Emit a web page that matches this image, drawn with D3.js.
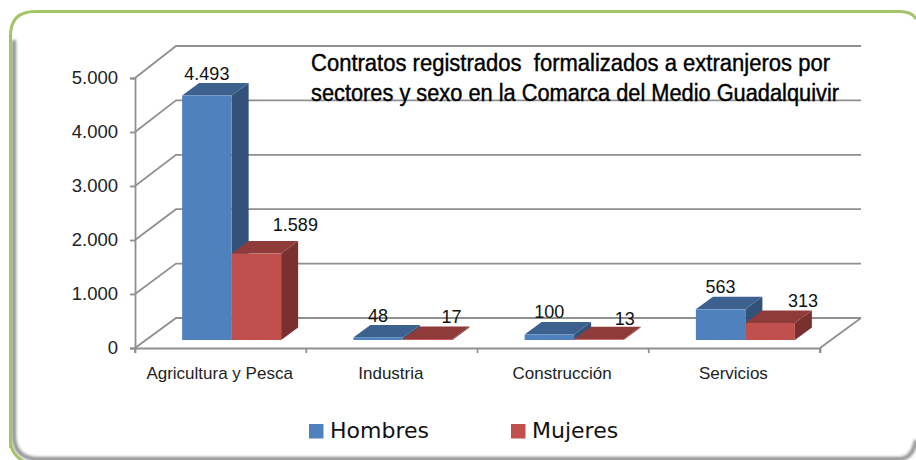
<!DOCTYPE html>
<html>
<head>
<meta charset="utf-8">
<script src="https://cdn.jsdelivr.net/npm/d3@7"></script>
<style>
  html, body { margin: 0; padding: 0; background: #fff; }
  svg { display: block; }
</style>
</head>
<body>
<div id="chart"></div>
<script>
// values
const categories = ['Agricultura y Pesca', 'Industria', 'Construcción', 'Servicios'];
const seriesNames = ['Hombres', 'Mujeres'];
const hombres = [4493, 48, 100, 563];
const mujeres = [1589, 17, 13, 313];
const yTicks = [0, 1000, 2000, 3000, 4000, 5000];
const titleLines = [
  'Contratos registrados  formalizados a extranjeros por',
  'sectores y sexo en la Comarca del Medio Guadalquivir'
];

const width = 916, height = 460;
const svg = d3.select('#chart').append('svg')
  .attr('width', width)
  .attr('height', height);

const esLocale = d3.formatLocale({ decimal: ',', thousands: '.', grouping: [3], currency: ['', ''] });
const fmt = esLocale.format(',d');

// frame: soft grey shadow on the left and bottom, green line on top of it
const defs = svg.append('defs');
const blur = defs.append('filter').attr('id', 'soft').attr('x', '-5%').attr('y', '-5%').attr('width', '110%').attr('height', '110%');
blur.append('feGaussianBlur').attr('stdDeviation', 1.6);

svg.append('path')
  .attr('d', 'M14,40 L14,436 Q14,456 34,459 L900,459 Q913,458 916,440')
  .attr('fill', 'none').attr('stroke', '#8a8a8a').attr('stroke-width', 4)
  .attr('filter', 'url(#soft)');
svg.append('path')
  .attr('d', 'M10.5,448 L10.5,36 Q10.5,11.5 35,11.5 L900,11.5 Q912,11.5 916,19')
  .attr('fill', 'none').attr('stroke', '#a4c46a').attr('stroke-width', 3);
svg.append('path')
  .attr('d', 'M10.5,442 Q11,454 23,461')
  .attr('fill', 'none').attr('stroke', '#a4c46a').attr('stroke-width', 3);

// 3d offsets: floor depth, and the bar's own depth
const wallDx = 41, wallDy = -30;
const barDx = 17, barDy = -12.5;

const x = d3.scaleBand().domain(categories).range([135, 820]);
const xSub = d3.scaleBand().domain(seriesNames).range([0, 99]);
const barOffset = (x.bandwidth() - xSub.range()[1]) / 2 + 11;

const y = d3.scaleLinear().domain([0, 5000]).range([348, 78]);      // front edge
const yWall = d3.scaleLinear().domain([0, 5000]).range([318, 46]);  // back wall
const yBar = d3.scaleLinear().domain([0, 5000]).range([340, 68]);   // plane the bars stand on

const gridColor = '#909090';

// back wall gridlines with a left-wall return
const grid = svg.append('g').attr('fill', 'none').attr('stroke', gridColor).attr('stroke-width', 1.8);
grid.selectAll('path')
  .data(yTicks)
  .join('path')
  .attr('d', d => `M${x.range()[0]},${y(d)} L${x.range()[0] + wallDx},${yWall(d)} L${x.range()[1] + wallDx},${yWall(d)}`);
// floor edge on the right
grid.append('path')
  .attr('d', `M${x.range()[1]},${y(0)} L${x.range()[1] + wallDx},${yWall(0)}`);

// axes
const yAxis = d3.axisLeft(y).tickValues(yTicks).tickFormat(fmt).tickSize(5).tickPadding(12);
const yG = svg.append('g').attr('transform', `translate(${x.range()[0]},0)`).call(yAxis);

const xAxis = d3.axisBottom(x).tickSize(5).tickFormat('').tickValues([]);
const xG = svg.append('g').attr('transform', `translate(0,${y(0)})`).call(xAxis);
xG.selectAll('.tickmark')
  .data(categories.concat('end'))
  .join('line')
  .attr('class', 'tickmark')
  .attr('x1', d => d === 'end' ? x.range()[1] : x(d))
  .attr('x2', d => d === 'end' ? x.range()[1] : x(d))
  .attr('y1', 0).attr('y2', 5)
  .attr('stroke', gridColor).attr('stroke-width', 1.8);

[yG, xG].forEach(g => {
  g.selectAll('.domain, .tick line').attr('stroke', gridColor).attr('stroke-width', 1.8);
});
yG.selectAll('text')
  .attr('font-family', 'Liberation Sans, sans-serif')
  .attr('font-size', 18.5)
  .attr('fill', '#222');

svg.append('g').selectAll('text')
  .data(categories)
  .join('text')
  .attr('x', d => x(d) + x.bandwidth() / 2 - 1)
  .attr('y', 379)
  .attr('text-anchor', 'middle')
  .attr('font-family', 'Liberation Sans, sans-serif')
  .attr('font-size', 17)
  .attr('fill', '#222')
  .text(d => d);

// bars
const colors = {
  Hombres: { front: '#4f81bd', top: '#3c618e', side: '#32527a' },
  Mujeres: { front: '#c0504d', top: '#8f3b39', side: '#7a302e' }
};
const rows = [];
seriesNames.forEach((s, si) => {
  const vals = si === 0 ? hombres : mujeres;
  categories.forEach((c, i) => rows.push({ series: s, category: c, value: vals[i], i }));
});
// manual shifts of the value labels, same as in the original
const labelShift = {
  Hombres: [[0, -3], [0, -3], [0, -4], [0, -4]],
  Mujeres: [[39, -10], [24, -4], [26, -2], [33, -3]]
};

const bars = svg.append('g').selectAll('g')
  .data(rows)
  .join('g');

bars.append('polygon')
  .attr('fill', d => colors[d.series].side)
  .attr('points', d => {
    const x1 = x(d.category) + barOffset + xSub(d.series) + xSub.bandwidth();
    return [[x1, yBar(d.value)], [x1 + barDx, yBar(d.value) + barDy], [x1 + barDx, yBar(0) + barDy], [x1, yBar(0)]].join(' ');
  });
bars.append('polygon')
  .attr('fill', d => colors[d.series].top)
  .attr('points', d => {
    const x0 = x(d.category) + barOffset + xSub(d.series);
    const x1 = x0 + xSub.bandwidth();
    const t = yBar(d.value);
    return [[x0, t], [x0 + barDx, t + barDy], [x1 + barDx, t + barDy], [x1, t]].join(' ');
  });
bars.append('rect')
  .attr('x', d => x(d.category) + barOffset + xSub(d.series))
  .attr('y', d => yBar(d.value))
  .attr('width', xSub.bandwidth())
  .attr('height', d => yBar(0) - yBar(d.value))
  .attr('fill', d => colors[d.series].front);

bars.append('text')
  .attr('x', d => x(d.category) + barOffset + xSub(d.series) + xSub.bandwidth() / 2 + labelShift[d.series][d.i][0])
  .attr('y', d => yBar(d.value) + barDy + labelShift[d.series][d.i][1])
  .attr('text-anchor', 'middle')
  .attr('font-family', 'Liberation Sans, sans-serif')
  .attr('font-size', 18)
  .attr('fill', '#111')
  .text(d => fmt(d.value));

// title
svg.append('g').selectAll('text')
  .data(titleLines)
  .join('text')
  .attr('x', 311)
  .attr('y', (d, i) => 71 + i * 30)
  .attr('font-family', 'Liberation Sans, sans-serif')
  .attr('font-size', 23)
  .attr('stroke', '#000')
  .attr('stroke-width', 0.4)
  .attr('textLength', (d, i) => i === 0 ? 519 : 528)
  .attr('lengthAdjust', 'spacingAndGlyphs')
  .attr('fill', '#000')
  .style('white-space', 'pre')
  .text(d => d);

// legend
const legendX = d3.scaleOrdinal().domain(seriesNames).range([309, 511]);
const legend = svg.append('g').selectAll('g')
  .data(seriesNames)
  .join('g')
  .attr('transform', d => `translate(${legendX(d)},424)`);
legend.append('rect')
  .attr('width', 14.5).attr('height', 14.5)
  .attr('fill', d => colors[d].front);
legend.append('text')
  .attr('x', 21)
  .attr('y', 14)
  .attr('font-family', 'DejaVu Sans, sans-serif')
  .attr('font-size', 22)
  .attr('fill', '#111')
  .text(d => d);
</script>
</body>
</html>
